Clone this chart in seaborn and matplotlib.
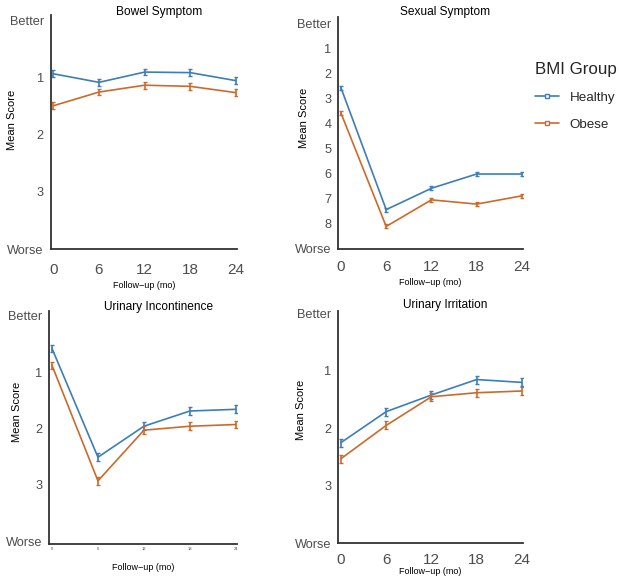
import matplotlib
matplotlib.use("Agg")
import matplotlib.pyplot as plt
import seaborn as sns
import pandas as pd
from matplotlib.lines import Line2D

sns.set_theme(style="white")
plt.rcParams['font.family'] = ['Liberation Sans', 'DejaVu Sans']

months = [0, 6, 12, 18, 24]
groups = ["Healthy", "Obese"]

bowel_healthy = [0.93, 1.08, 0.90, 0.91, 1.05]
bowel_obese = [1.49, 1.25, 1.13, 1.15, 1.26]
bowel_err = [0.06, 0.06, 0.06, 0.06, 0.06]

sexual_healthy = [2.57, 7.43, 6.58, 6.01, 6.01]
sexual_obese = [3.58, 8.10, 7.04, 7.21, 6.88]
sexual_err = [0.08, 0.08, 0.08, 0.08, 0.08]

incont_healthy = [0.58, 2.51, 1.96, 1.69, 1.66]
incont_obese = [0.88, 2.93, 2.03, 1.96, 1.93]
incont_err = [0.06, 0.07, 0.07, 0.07, 0.07]

irrit_healthy = [2.25, 1.71, 1.42, 1.15, 1.20]
irrit_obese = [2.53, 1.95, 1.45, 1.38, 1.35]
irrit_err = [0.07, 0.07, 0.07, 0.07, 0.07]

panels = [
    ("Bowel Symptom", bowel_healthy, bowel_obese, bowel_err,
     [0, 1, 2, 3, 4], ["Better", "1", "2", "3", "Worse"], (4.0, -0.1)),
    ("Sexual Symptom", sexual_healthy, sexual_obese, sexual_err,
     list(range(10)), ["Better"] + [str(i) for i in range(1, 9)] + ["Worse"], (9.0, -0.25)),
    ("Urinary Incontinence", incont_healthy, incont_obese, incont_err,
     [0, 1, 2, 3, 4], ["Better", "1", "2", "3", "Worse"], (4.05, -0.09)),
    ("Urinary Irritation", irrit_healthy, irrit_obese, irrit_err,
     [0, 1, 2, 3, 4], ["Better", "1", "2", "3", "Worse"], (4.0, -0.05)),
]

colors = {"Healthy": "#3D7DB8", "Obese": "#CC6A2C"}

W, H = 619, 583
def rect(x0, x1, ytop, ybot):
    return [x0 / W, 1 - ybot / H, (x1 - x0) / W, (ybot - ytop) / H]

rects = [rect(50.7, 237, 15, 249), rect(338.3, 523, 17, 249),
         rect(49.3, 237, 310.7, 544), rect(338.3, 523, 310.7, 543)]
ylabel_x = [-0.181, -0.156, -0.146, -0.174]
ylabel_y = [0.551, 0.565, 0.568, 0.573]
title_y = [1.013, 1.02, 1.017, 1.024]
xtick_pad = [10, 8, 2, 7]
xlabel_pad = [3, 3, 9, 0]

fig = plt.figure(figsize=(6.19, 5.83), dpi=100)

for i, (title, hv, ov, err, yt, ytl, ylim) in enumerate(panels):
    ax = fig.add_axes(rects[i])
    df = pd.DataFrame({
        "month": months * 2,
        "score": hv + ov,
        "group": ["Healthy"] * 5 + ["Obese"] * 5,
    })
    sns.lineplot(data=df, x="month", y="score", hue="group", palette=colors,
                 ax=ax, legend=False, linewidth=1.2)
    for g, vals in (("Healthy", hv), ("Obese", ov)):
        ax.errorbar(months, vals, yerr=err, fmt="none", ecolor=colors[g],
                    elinewidth=1.2, capsize=1.5, capthick=1.0)
    ax.set_xlim(-0.35, 24.15)
    ax.set_ylim(*ylim)
    ax.set_yticks(yt)
    ax.set_yticklabels(ytl)
    ax.set_xticks(months)
    xfs = 3 if i == 2 else 11
    ax.tick_params(axis="x", labelsize=xfs, colors="#4D4D4D", length=0,
                   width=0.8, pad=xtick_pad[i])
    ax.tick_params(axis="y", labelsize=9.2, colors="#4D4D4D", length=0, pad=5)
    for s in ["top", "right"]:
        ax.spines[s].set_visible(False)
    for s in ["left", "bottom"]:
        ax.spines[s].set_color("#333333")
        ax.spines[s].set_linewidth(1.3)
    ax.set_ylabel("Mean Score", fontsize=8, color="black")
    ax.yaxis.set_label_coords(ylabel_x[i], ylabel_y[i])
    ax.set_xlabel("Follow\u2212up (mo)", fontsize=6.5, color="black",
                  labelpad=xlabel_pad[i])
    ax.text(0.58, title_y[i], title, transform=ax.transAxes, fontsize=8.6,
            color="black", ha="center", va="center")
    ax.grid(False)

handles = [Line2D([0], [0], color=colors[g], lw=1.2, marker="s", markersize=3.5,
                  markerfacecolor="white", markeredgecolor=colors[g], markeredgewidth=1)
           for g in groups]
leg = fig.legend(handles, groups, title="BMI Group", loc="upper left",
                 bbox_to_anchor=(523 / W, 1 - 50 / H), frameon=False,
                 fontsize=9.6, title_fontsize=12.2, handlelength=1.8,
                 labelspacing=1.1, handletextpad=0.8)
leg._legend_box.align = "left"

fig.savefig("out.png", dpi=100)
